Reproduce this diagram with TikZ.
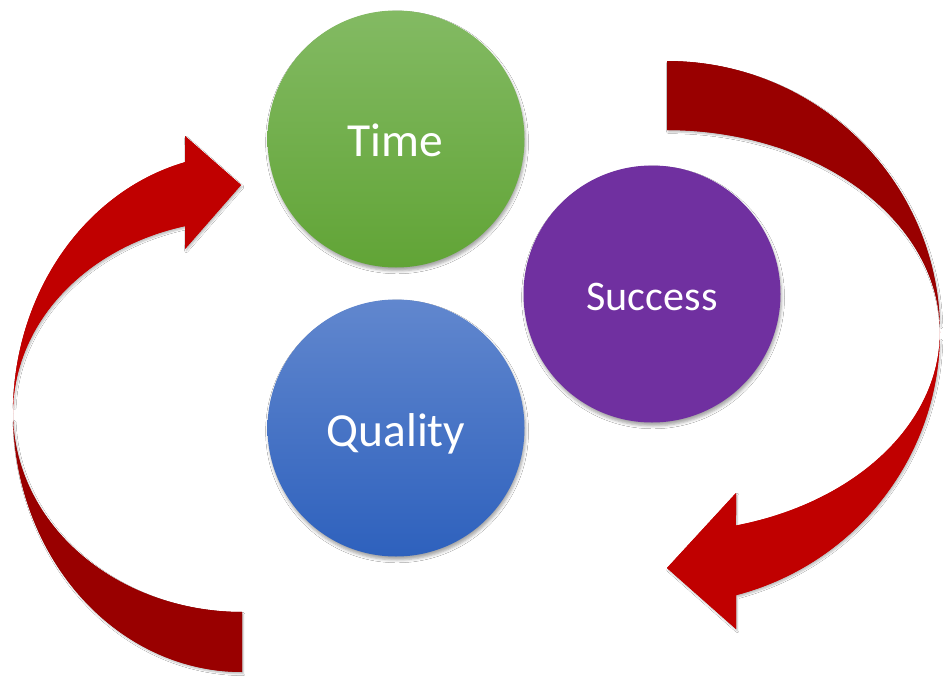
\documentclass[tikz,border=0pt]{standalone}
\usepackage{fontspec}
\setmainfont{Carlito}
\usetikzlibrary{shadows.blur}
\definecolor{frontred}{HTML}{C00000}
\definecolor{backred}{HTML}{990000}
\definecolor{timetop}{RGB}{131,186,99}
\definecolor{timebot}{RGB}{97,164,54}
\definecolor{qualtop}{RGB}{97,135,206}
\definecolor{qualbot}{RGB}{46,97,189}
\definecolor{succ}{HTML}{7030A0}
\begin{document}
\begin{tikzpicture}[x=0.75pt,y=-0.75pt,
  softshadow/.style={blur shadow={shadow xshift=0.8pt, shadow yshift=-2.5pt, shadow blur radius=2.2pt, shadow opacity=35}},
  arrowshadow/.style={blur shadow={shadow xshift=1pt, shadow yshift=-1.5pt, shadow blur radius=1.2pt, shadow opacity=25}},
  ball/.style={circle, minimum size=192.75pt, inner sep=0pt, softshadow},
  lbl/.style={text=white, anchor=base, inner sep=0pt},
  bigtxt/.style={font=\fontsize{35.6}{40}\selectfont},
  midtxt/.style={font=\fontsize{31.6}{36}\selectfont}
]
\fill[white] (0,0) rectangle (947,678);
\useasboundingbox (0,0) rectangle (947,678);

% left curved arrow: back (dark) part
\fill[backred, arrowshadow]
  plot[domain=90:178, samples=60] ({242+229*cos(\x)},{413+259*sin(\x)})
  -- plot[domain=178:90, samples=60] ({242+229*cos(\x)},{413+199*sin(\x)})
  -- cycle;
\fill[backred]
  plot[domain=90:180, samples=60] ({242+229*cos(\x)},{413+259*sin(\x)})
  -- plot[domain=180:90, samples=60] ({242+229*cos(\x)},{413+199*sin(\x)})
  -- cycle;
% left curved arrow: front (bright) part with head
\fill[frontred, arrowshadow]
  plot[domain=182:255.6, samples=60] ({242+229*cos(\x)},{413+259*sin(\x)})
  -- (185,136) -- (241,185) -- (185,249)
  -- plot[domain=255.6:182, samples=60] ({242+229*cos(\x)},{413+193*sin(\x)})
  -- cycle;
\fill[frontred]
  plot[domain=180:255.6, samples=60] ({242+229*cos(\x)},{413+259*sin(\x)})
  -- (185,136) -- (241,185) -- (185,249)
  -- plot[domain=255.6:180, samples=60] ({242+229*cos(\x)},{413+193*sin(\x)})
  -- cycle;

% right curved arrow: back (dark) part
\fill[backred, arrowshadow]
  plot[domain=270:358, samples=60] ({667+273*cos(\x)},{332+271*sin(\x)})
  -- plot[domain=358:270, samples=60] ({667+273*cos(\x)},{332+202*sin(\x)})
  -- cycle;
\fill[backred]
  plot[domain=270:360, samples=60] ({667+273*cos(\x)},{332+271*sin(\x)})
  -- plot[domain=360:270, samples=60] ({667+273*cos(\x)},{332+202*sin(\x)})
  -- cycle;
% right curved arrow: front (bright) part with head
\fill[frontred, arrowshadow]
  plot[domain=2:75.36, samples=60] ({667+273*cos(\x)},{332+272*sin(\x)})
  -- (736,629) -- (667,568) -- (736,493)
  -- plot[domain=75.36:2, samples=60] ({667+273*cos(\x)},{332+200*sin(\x)})
  -- cycle;
\fill[frontred]
  plot[domain=0:75.36, samples=60] ({667+273*cos(\x)},{332+272*sin(\x)})
  -- (736,629) -- (667,568) -- (736,493)
  -- plot[domain=75.36:0, samples=60] ({667+273*cos(\x)},{332+200*sin(\x)})
  -- cycle;

% circles
\node[ball, top color=timetop, bottom color=timebot] (time) at (396,139) {};
\node[ball, fill=succ] (success) at (652,294) {};
\node[ball, top color=qualtop, bottom color=qualbot] (quality) at (396,428) {};

% labels
\node[lbl, bigtxt] (timetxt) at (395,156) {Time};
\node[lbl, midtxt] (successtxt) at (652,310) {Success};
\node[lbl, bigtxt] (qualitytxt) at (396,446) {Quality};
\end{tikzpicture}
\end{document}
